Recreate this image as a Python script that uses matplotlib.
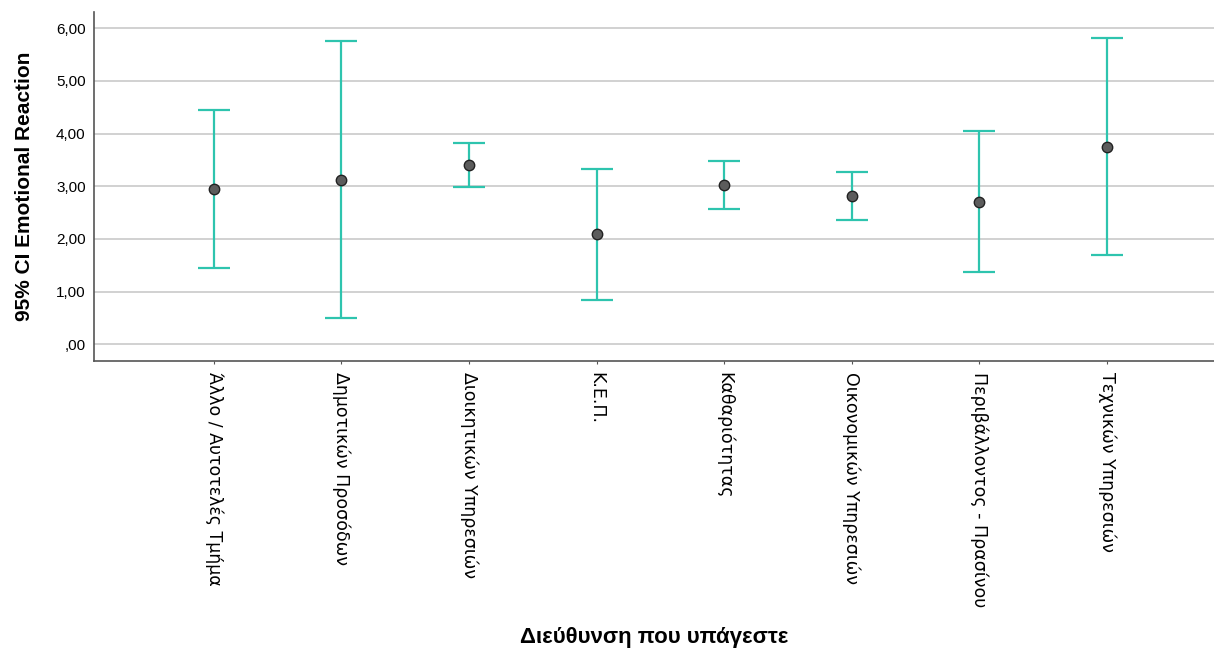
import matplotlib.pyplot as plt
import numpy as np
from matplotlib.ticker import FuncFormatter

# Data
categories = ['Άλλο / Αυτοτελές Τμήμα', 'Δημοτικών Προσόδων', 'Διοικητικών Υπηρεσιών',
              'Κ.Ε.Π.', 'Καθαριότητας', 'Οικονομικών Υπηρεσιών',
              'Περιβάλλοντος - Πρασίνου', 'Τεχνικών Υπηρεσιών']
means = [2.94, 3.12, 3.40, 2.09, 3.02, 2.82, 2.70, 3.75]
lower = [1.44, 0.50, 2.99, 0.84, 2.57, 2.36, 1.37, 1.70]
upper = [4.45, 5.76, 3.82, 3.33, 3.48, 3.27, 4.05, 5.81]

colors = {
    'bar': '#2ec4ae',
    'marker': '#5c5c5c',
    'grid': '#c9c9c9',
    'spine': '#555555',
    'text': '#000000',
}

plt.rcParams['font.family'] = ['Liberation Sans', 'DejaVu Sans']

fig = plt.figure(figsize=(12.14, 6.49), dpi=100)
ax = fig.add_axes([94 / 1214, 1 - 361 / 649, 1 - 94 / 1214, (361 - 12) / 649])

x = np.arange(len(categories))
means_a = np.array(means)
yerr = np.vstack([means_a - np.array(lower), np.array(upper) - means_a])

ax.errorbar(x, means_a, yerr=yerr, fmt='none', ecolor=colors['bar'],
            elinewidth=1.6, capsize=11.5, capthick=1.6, zorder=3)
ax.plot(x, means_a, 'o', markersize=7.5, markerfacecolor=colors['marker'],
        markeredgecolor='#222222', markeredgewidth=1.0, zorder=4)

ax.set_xlim(-0.94, 7.84)
ax.set_ylim(-0.32, 6.31)
ax.set_yticks(np.arange(0, 7, 1))
ax.yaxis.set_major_formatter(FuncFormatter(
    lambda v, p: (',00' if v == 0 else f'{v:.2f}'.replace('.', ','))))
ax.grid(axis='y', color=colors['grid'], linewidth=1.2, zorder=0)
ax.set_axisbelow(True)

for side in ['top', 'right']:
    ax.spines[side].set_visible(False)
for side in ['left', 'bottom']:
    ax.spines[side].set_color(colors['spine'])
    ax.spines[side].set_linewidth(1.2)

ax.tick_params(axis='y', length=0, pad=6, labelsize=11)
ax.tick_params(axis='x', length=2, pad=6, color=colors['spine'])
ax.set_xticks(x)
ax.set_xticklabels(categories, rotation=-90, va='top', ha='center',
                   fontsize=12.5, family='DejaVu Sans', color=colors['text'])

ax.set_ylabel('95% CI Emotional Reaction', fontsize=15, fontweight='bold', labelpad=16)
fig.text((94 + 1214) / 2 / 1214, 1 - 638 / 649, 'Διεύθυνση που υπάγεστε',
         ha='center', va='center', fontsize=16, fontweight='bold')

plt.savefig('out.png', dpi=100)
plt.close()
